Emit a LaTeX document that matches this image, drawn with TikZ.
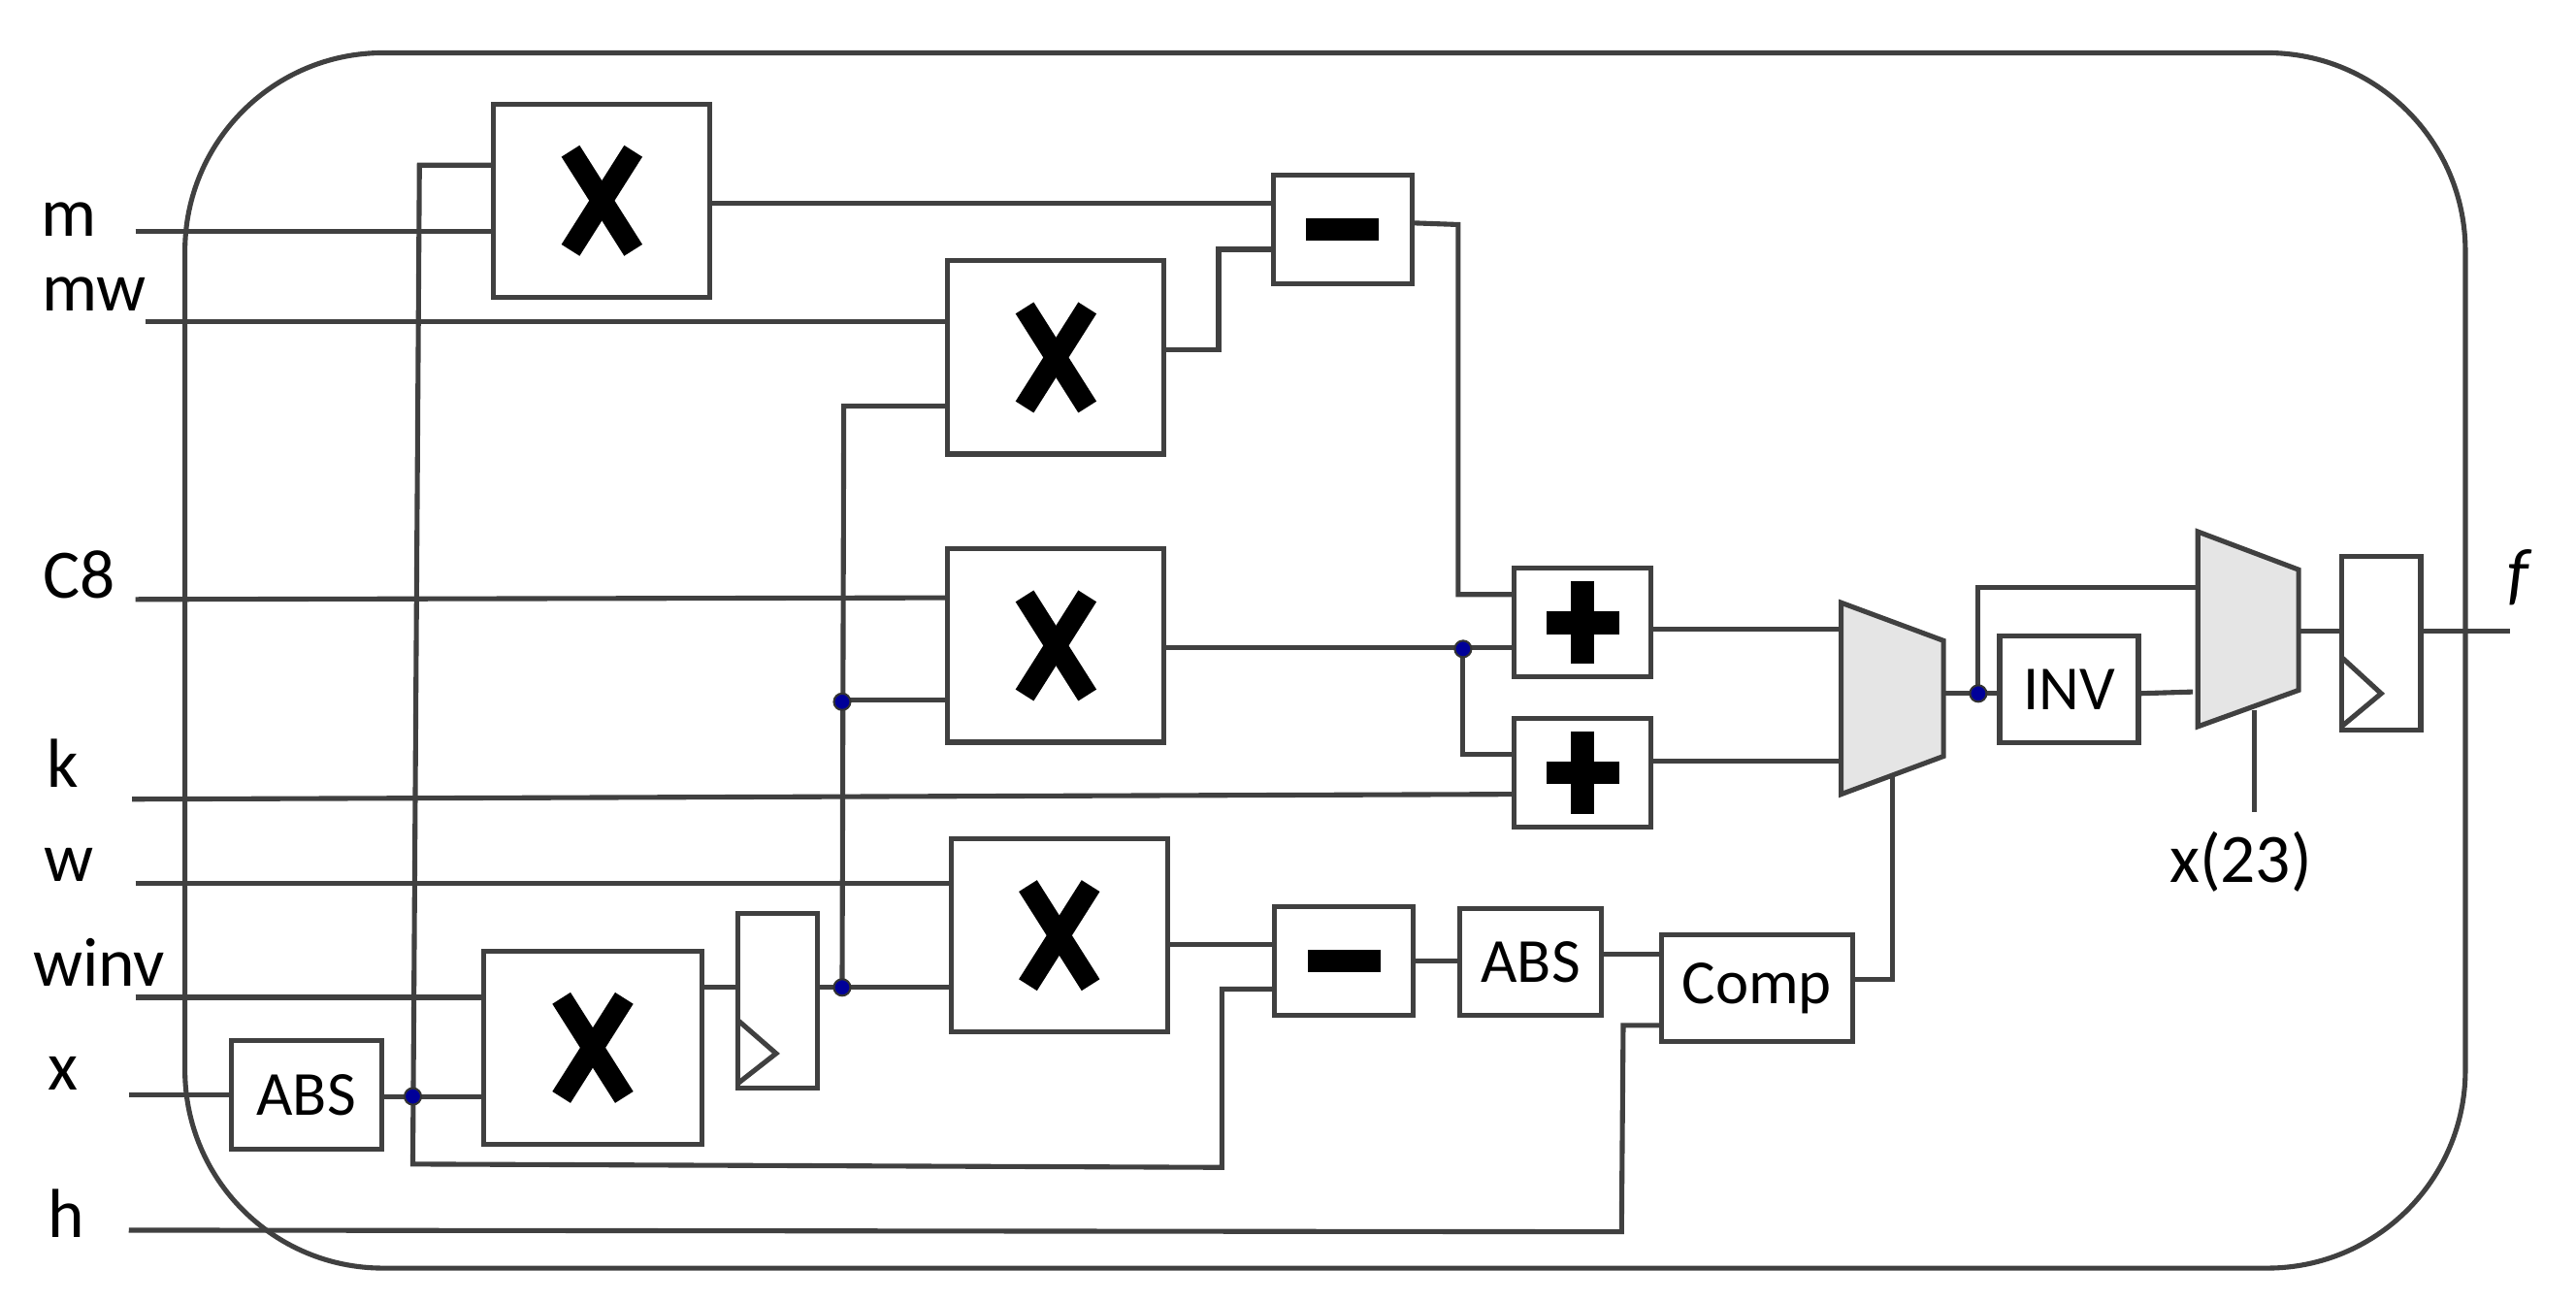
\documentclass[tikz,border=0pt]{standalone}
\usepackage{fontspec}
\setmainfont{Carlito}
\begin{document}
\begin{tikzpicture}[x=0.5pt,y=-0.5pt,
  ln/.style={draw=black!75,line width=1.5pt},
  box/.style={ln,rectangle,inner sep=0pt,outer sep=0pt},
  sz/.style 2 args={minimum width=#1*0.5pt,minimum height=#2*0.5pt},
  lbl/.style={font=\fontsize{21}{21}\selectfont,inner sep=0pt},
  btx/.style={font=\fontsize{19}{19}\selectfont},
  mult/.style={box,sz={131}{117}},
  mux/.style={ln,fill=black!10},
  dot/.style={circle,fill=blue!60!black,draw=black!80,line width=0.6pt,inner sep=0pt,minimum size=5pt}]
\useasboundingbox (0,0) rectangle (1560,788);
\draw[ln,rounded corners=60pt] (112,32) rectangle (1493,768);
% labels
\node[lbl] (lm) at (42,133) {m};
\node[lbl] (lmw) at (57,178) {mw};
\node[lbl] (lc8) at (48,348) {C8};
\node[lbl] (lk) at (38,462) {k};
\node[lbl] (lw) at (42,524) {w};
\node[lbl] (lwinv) at (60,583) {winv};
\node[lbl] (lx) at (38,650) {x};
\node[lbl] (lh) at (40,735) {h};
\node[lbl] (lf) at (1525,350) {\itshape f};
\node[lbl] (lsel) at (1357,522) {x(23)};
% multipliers
\node[mult] (M1) at (364.5,121.5) {};
\node[mult] (M2) at (639.5,216.5) {};
\node[mult] (M3) at (639.5,391) {};
\node[mult] (M4) at (641.5,566.5) {};
\node[mult,sz={132}{117}] (M5) at (359,634.5) {};
\foreach \n in {M1,M2,M3,M4,M5}{
  \draw[line width=6.5pt] ([shift={(-19,-30)}]\n.center) -- ([shift={(19,30)}]\n.center);
  \draw[line width=6.5pt] ([shift={(19,-30)}]\n.center) -- ([shift={(-19,30)}]\n.center);
}
% subtract / add
\node[box,sz={84}{66}] (S1) at (813,139) {};
\node[box,sz={84}{66}] (S2) at (814,582) {};
\node[box,sz={83}{66}] (P1) at (958.5,377) {};
\node[box,sz={83}{66}] (P2) at (958.5,468) {};
\foreach \n in {S1,S2}{\fill ([shift={(-22,-7)}]\n.center) rectangle ++(44,14);}
\foreach \n in {P1,P2}{\fill ([shift={(-22,-7)}]\n.center) rectangle ++(44,14);
  \fill ([shift={(-7,-25)}]\n.center) rectangle ++(14,50);}
% text boxes
\node[box,sz={91}{66},btx] (A1) at (185.5,663) {ABS};
\node[box,sz={86}{65},btx] (A2) at (927,582.5) {ABS};
\node[box,sz={116}{65},btx] (CP) at (1064,598.5) {Comp};
\node[box,sz={84}{65},btx] (INV) at (1253,417.5) {INV};
% registers
\node[box,sz={48}{106}] (R1) at (471,606) {};
\draw[ln] (447,618) -- (470,638) -- (447,656);
\node[box,sz={48}{105}] (R2) at (1442,389.5) {};
\draw[ln] (1418,398) -- (1442,420) -- (1418,440);
% muxes
\draw[mux] (1115,365) -- (1177,388) -- (1177,458) -- (1115,481) -- cycle;
\draw[mux] (1331,322) -- (1392,345) -- (1392,418) -- (1331,440) -- cycle;
\coordinate (X1o) at (1177,420);
\coordinate (X2o) at (1392,382);
% wires
\draw[ln] (82,140) -- (M1.west|-0,140);
\draw[ln] (M1.west|-0,100) -- (254,100) -- (250,705) -- (740,707) -- (740,599) -- (S2.west|-0,599);
\draw[ln] (88,195) -- (M2.west|-0,195);
\draw[ln] (M1.east|-0,123) -- (S1.west|-0,123);
\draw[ln] (M2.east|-0,212) -- (738,212) -- (738,151) -- (S1.west|-0,151);
\draw[ln] (M2.west|-0,246) -- (511,246) -- (510,598);
\draw[ln] (510,424) -- (M3.west|-0,424);
\draw[ln] (82,363) -- (M3.west|-0,362);
\draw[ln] (M3.east|-0,392) -- (P1.west|-0,392);
\draw[ln] (886,393) -- (886,457) -- (P2.west|-0,457);
\draw[ln] (S1.east|-0,135) -- (883,136) -- (883,360) -- (P1.west|-0,360);
\draw[ln] (80,484) -- (P2.west|-0,481);
\draw[ln] (82,535) -- (M4.west|-0,535);
\draw[ln] (82,604) -- (M5.west|-0,604);
\draw[ln] (78,663) -- (A1.west|-0,663);
\draw[ln] (A1.east|-0,664) -- (M5.west|-0,664);
\draw[ln] (M5.east|-0,598) -- (R1.west|-0,598);
\draw[ln] (R1.east|-0,598) -- (M4.west|-0,598);
\draw[ln] (M4.east|-0,572) -- (S2.west|-0,572);
\draw[ln] (S2.east|-0,582) -- (A2.west|-0,582);
\draw[ln] (A2.east|-0,578) -- (CP.west|-0,578);
\draw[ln] (78,745) -- (982,746) -- (983,621) -- (CP.west|-0,621);
\draw[ln] (CP.east|-0,593) -- (1146,593) -- (1146,470);
\draw[ln] (P1.east|-0,381) -- (1115,381);
\draw[ln] (P2.east|-0,461) -- (1115,461);
\draw[ln] (X1o) -- (INV.west|-0,420);
\draw[ln] (1198,420) -- (1198,356) -- (1331,356);
\draw[ln] (INV.east|-0,420) -- (1328,419);
\draw[ln] (1365,430) -- (1365,492);
\draw[ln] (X2o) -- (R2.west|-0,382);
\draw[ln] (R2.east|-0,382) -- (1520,382);
% junctions
\foreach \p in {(250,664),(510,425),(510,598),(886,393),(1198,420)}{\node[dot] at \p {};}
\end{tikzpicture}
\end{document}
